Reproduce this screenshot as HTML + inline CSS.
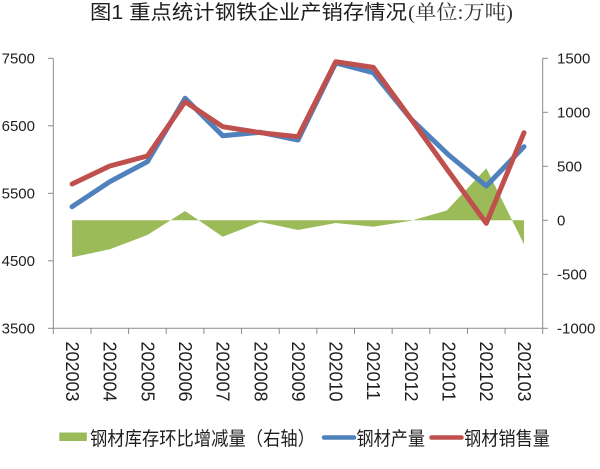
<!DOCTYPE html>
<html>
<head>
<meta charset="utf-8">
<style>
  html,body{margin:0;padding:0;background:#fff;}
  svg{display:block;}
  text{font-family:"Liberation Sans","Noto Sans CJK SC",sans-serif;fill:#1e1e1e;}
</style>
</head>
<body>
<svg width="600" height="469" viewBox="0 0 600 469" xmlns="http://www.w3.org/2000/svg">
  <!-- Title -->
  <text x="90" y="19" font-size="20" textLength="317" lengthAdjust="spacingAndGlyphs">图1 重点统计钢铁企业产销存情况</text>
  <text x="408" y="19" font-size="20" textLength="105" lengthAdjust="spacingAndGlyphs" style="font-family:'Liberation Serif','Noto Serif CJK SC',serif;fill:#333;">(单位:万吨)</text>

  <!-- Axes -->
  <g stroke="#8a8a8a" stroke-width="1" fill="none">
    <line x1="53.3" y1="58.3" x2="53.3" y2="328.3"/>
    <line x1="542.7" y1="58.3" x2="542.7" y2="328.3"/>
    <line x1="53.3" y1="328.3" x2="542.7" y2="328.3"/>
    <!-- left ticks -->
    <line x1="48" y1="58.3" x2="53.3" y2="58.3"/>
    <line x1="48" y1="125.8" x2="53.3" y2="125.8"/>
    <line x1="48" y1="193.3" x2="53.3" y2="193.3"/>
    <line x1="48" y1="260.8" x2="53.3" y2="260.8"/>
    <line x1="48" y1="328.3" x2="53.3" y2="328.3"/>
    <!-- right ticks -->
    <line x1="542.7" y1="58.3" x2="548" y2="58.3"/>
    <line x1="542.7" y1="112.3" x2="548" y2="112.3"/>
    <line x1="542.7" y1="166.3" x2="548" y2="166.3"/>
    <line x1="542.7" y1="220.3" x2="548" y2="220.3"/>
    <line x1="542.7" y1="274.3" x2="548" y2="274.3"/>
    <line x1="542.7" y1="328.3" x2="548" y2="328.3"/>
    <!-- bottom ticks -->
    <line x1="53.3" y1="328.3" x2="53.3" y2="334"/>
    <line x1="90.95" y1="328.3" x2="90.95" y2="334"/>
    <line x1="128.6" y1="328.3" x2="128.6" y2="334"/>
    <line x1="166.25" y1="328.3" x2="166.25" y2="334"/>
    <line x1="203.9" y1="328.3" x2="203.9" y2="334"/>
    <line x1="241.55" y1="328.3" x2="241.55" y2="334"/>
    <line x1="279.2" y1="328.3" x2="279.2" y2="334"/>
    <line x1="316.85" y1="328.3" x2="316.85" y2="334"/>
    <line x1="354.5" y1="328.3" x2="354.5" y2="334"/>
    <line x1="392.15" y1="328.3" x2="392.15" y2="334"/>
    <line x1="429.8" y1="328.3" x2="429.8" y2="334"/>
    <line x1="467.45" y1="328.3" x2="467.45" y2="334"/>
    <line x1="505.1" y1="328.3" x2="505.1" y2="334"/>
    <line x1="542.7" y1="328.3" x2="542.7" y2="334"/>
  </g>

  <!-- Left axis labels -->
  <g font-size="15" text-anchor="end">
    <text x="35" y="63.5">7500</text>
    <text x="35" y="131">6500</text>
    <text x="35" y="198.5">5500</text>
    <text x="35" y="266">4500</text>
    <text x="35" y="333.5">3500</text>
  </g>
  <!-- Right axis labels -->
  <g font-size="15" text-anchor="start">
    <text x="557" y="63.5">1500</text>
    <text x="557" y="117.5">1000</text>
    <text x="557" y="171.5">500</text>
    <text x="557" y="225.5">0</text>
    <text x="557" y="279.5">-500</text>
    <text x="557" y="333.5">-1000</text>
  </g>

  <!-- X labels (rotated) -->
  <g font-size="18">
    <text transform="translate(66,341.5) rotate(90)" dy="0">202003</text>
    <text transform="translate(103.7,341.5) rotate(90)">202004</text>
    <text transform="translate(141.3,341.5) rotate(90)">202005</text>
    <text transform="translate(179,341.5) rotate(90)">202006</text>
    <text transform="translate(216.6,341.5) rotate(90)">202007</text>
    <text transform="translate(254.3,341.5) rotate(90)">202008</text>
    <text transform="translate(291.9,341.5) rotate(90)">202009</text>
    <text transform="translate(329.6,341.5) rotate(90)">202010</text>
    <text transform="translate(367.2,341.5) rotate(90)">202011</text>
    <text transform="translate(404.9,341.5) rotate(90)">202012</text>
    <text transform="translate(442.6,341.5) rotate(90)">202101</text>
    <text transform="translate(480.2,341.5) rotate(90)">202102</text>
    <text transform="translate(517.9,341.5) rotate(90)">202103</text>
  </g>

  <!-- Green area (inventory change, right axis) -->
  <path fill="#9bbb59" stroke="none"
    d="M72.1,220.3 L72.1,257.3 L109.8,249.3 L147.4,235 L185.1,211 L222.7,236.7 L260.4,222 L298,230 L335.7,223 L373.3,226.7 L411,220.8 L446.7,210.5 L486.3,168.3 L524,244.3 L524,220.3 Z"/>

  <!-- Blue line (production) -->
  <polyline fill="none" stroke="#4f81bd" stroke-width="5" stroke-linejoin="round" stroke-linecap="round"
    points="72.1,206.7 109.8,181.7 147.4,161.7 185.1,98.3 222.7,135.7 260.4,132.3 298,140 335.7,63 373.3,72.7 411,119 448.7,155 486.3,186 524,146.7"/>

  <!-- Red line (sales) -->
  <polyline fill="none" stroke="#c0504d" stroke-width="5" stroke-linejoin="round" stroke-linecap="round"
    points="72.1,184 109.8,166 147.4,156 185.1,101.7 222.7,126.7 260.4,132.7 298,136.7 335.7,61.7 373.3,67.3 411,119 448.7,171.5 486.3,223.3 524,132.7"/>

  <!-- Legend -->
  <rect x="59.3" y="432.5" width="27.5" height="8.5" fill="#9bbb59"/>
  <text x="90" y="445" font-size="19" textLength="225" lengthAdjust="spacingAndGlyphs">钢材库存环比增减量（右轴）</text>
  <line x1="324" y1="437.5" x2="354" y2="437.5" stroke="#4f81bd" stroke-width="4.5" stroke-linecap="round"/>
  <text x="356.5" y="445" font-size="19" textLength="68.5" lengthAdjust="spacingAndGlyphs">钢材产量</text>
  <line x1="431.5" y1="437.5" x2="461.5" y2="437.5" stroke="#c0504d" stroke-width="4.5" stroke-linecap="round"/>
  <text x="464" y="445" font-size="19" textLength="86" lengthAdjust="spacingAndGlyphs">钢材销售量</text>
</svg>
</body>
</html>
